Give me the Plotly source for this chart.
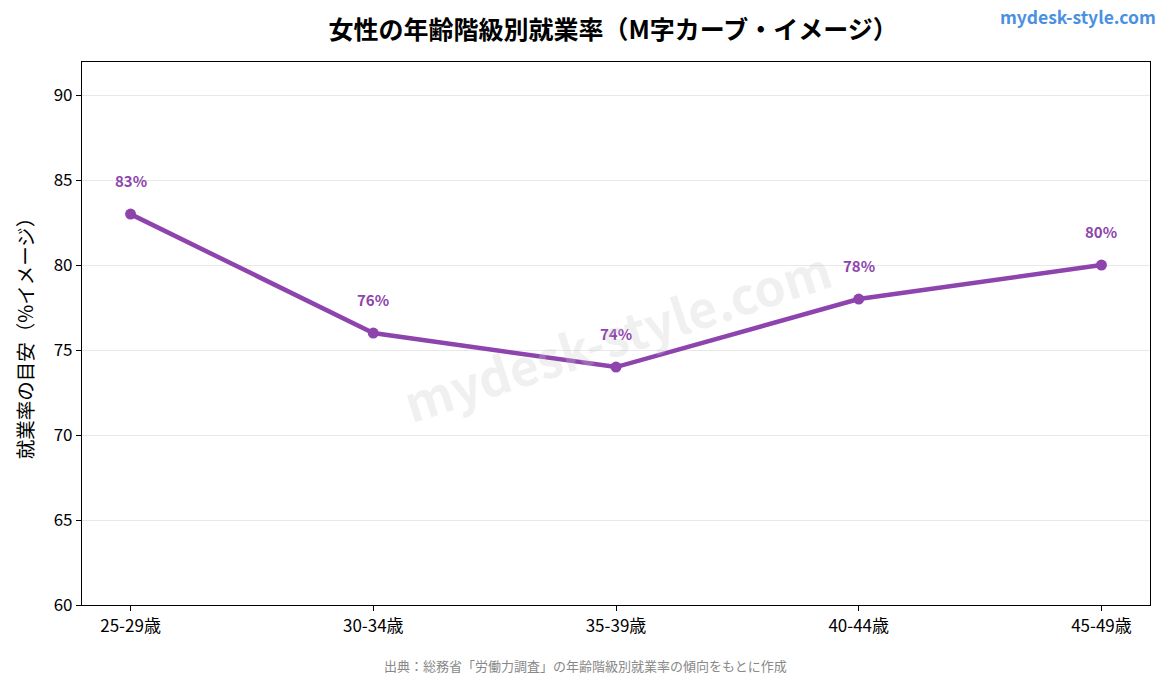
import plotly.graph_objects as go

categories = ["25-29歳", "30-34歳", "35-39歳", "40-44歳", "45-49歳"]
values = [83, 76, 74, 78, 80]
y_ticks = [60, 65, 70, 75, 80, 85, 90]

FONT = "Noto Sans CJK JP"
PURPLE = "#8e44ad"

fig = go.Figure()
fig.add_trace(go.Scatter(
    x=list(range(len(categories))), y=values, mode="lines+markers",
    line=dict(color=PURPLE, width=4.5),
    marker=dict(color=PURPLE, size=11),
    hoverinfo="skip", showlegend=False,
))

for i, v in enumerate(values):
    fig.add_annotation(x=i, y=v, text=f"<b>{v}%</b>", showarrow=False,
                       yshift=34, font=dict(family=FONT, size=15, color=PURPLE))

# watermark
fig.add_annotation(x=0.5, y=0.5, xref="paper", yref="paper",
                   text="<b>mydesk-style.com</b>", showarrow=False, textangle=-18,
                   font=dict(family=FONT, size=50, color="rgba(200,200,200,0.28)"))

# site label
fig.add_annotation(x=1.0075, y=1.083, xref="paper", yref="paper", xanchor="right", yanchor="middle",
                   text="<b>mydesk-style.com</b>", showarrow=False,
                   font=dict(family=FONT, size=17.5, color="#4a90e2"))
# source
fig.add_annotation(x=0.471, y=-0.112, xref="paper", yref="paper", xanchor="center", yanchor="middle",
                   text="出典：総務省「労働力調査」の年齢階級別就業率の傾向をもとに作成", showarrow=False,
                   font=dict(family=FONT, size=13, color="#888888"))

fig.update_layout(
    width=1170, height=676,
    margin=dict(l=82, r=20, t=62, b=71),
    paper_bgcolor="white", plot_bgcolor="white",
    font=dict(family=FONT, color="black"),
    title=dict(text="<b>女性の年齢階級別就業率（M字カーブ・イメージ）</b>",
               x=0.524, xanchor="center", y=0.955, yanchor="middle",
               font=dict(family=FONT, size=25, color="black")),
    xaxis=dict(range=[-0.2, 4.2], tickmode="array", tickvals=list(range(len(categories))),
               ticktext=categories, showgrid=False, zeroline=False,
               showline=True, linecolor="black", linewidth=1.2, mirror=True,
               ticks="outside", ticklen=5, tickcolor="black",
               tickfont=dict(family=FONT, size=17, color="black")),
    yaxis=dict(range=[60, 91.95], tickmode="array", tickvals=y_ticks,
               showgrid=True, gridcolor="#e8e8e8", gridwidth=1, zeroline=False,
               showline=True, linecolor="black", linewidth=1.2, mirror=True,
               ticks="outside", ticklen=5, tickcolor="black",
               tickfont=dict(family=FONT, size=17, color="black"),
               title=dict(text="就業率の目安（%イメージ）", standoff=14,
                          font=dict(family=FONT, size=19.5, color="black"))),
)

fig.write_html("out.html")
